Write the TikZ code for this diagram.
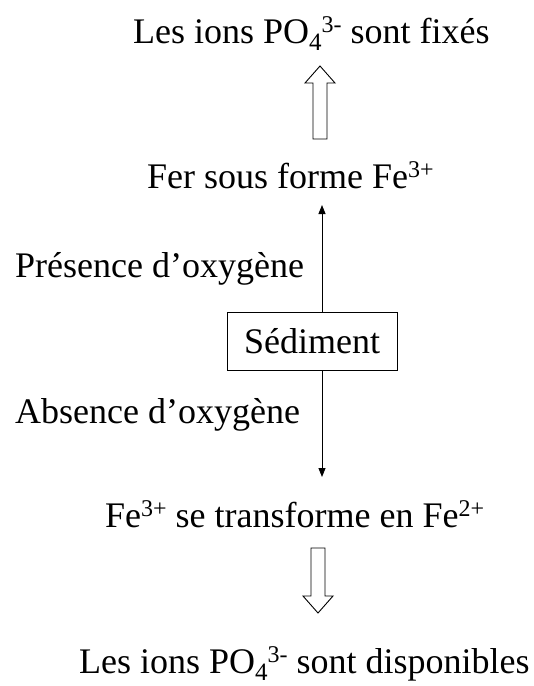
\documentclass[tikz,border=0pt]{standalone}
\usepackage{fontspec}
\setmainfont{Liberation Serif}
\usetikzlibrary{arrows.meta}
% smaller raised / lowered indices for ion charges
\newcommand\ionsup[1]{\raisebox{0.3em}{\fontsize{24}{24}\selectfont #1}}
\newcommand\ionsub[1]{\raisebox{-0.2em}{\fontsize{25}{25}\selectfont #1}}
\begin{document}
\begin{tikzpicture}[x=1pt,y=1pt,
  lbl/.style={anchor=base west,inner sep=0pt,font=\fontsize{36}{42}\selectfont},
  sedbox/.style={draw,line width=0.9pt,minimum width=170pt,minimum height=58pt,inner sep=0pt,font=\fontsize{36}{42}\selectfont},
  thin/.style={line width=0.9pt,-{Triangle[length=9pt,width=7pt]}},
  hollow/.style={draw,line width=0.9pt,fill=white,line join=miter}]
\useasboundingbox (0,0) rectangle (534,-686);

\node[lbl] (fixes) at (133,-43) {Les ions PO\ionsub{4}\ionsup{3-} sont fixés};
\node[lbl] (fer3) at (147,-188) {Fer sous forme Fe\ionsup{3+}};
\node[lbl] (pres) at (15,-277) {Présence d’oxygène};
\node[sedbox] (sed) at (312,-341) {Sédiment};
\node[lbl] (abs) at (15,-423) {Absence d’oxygène};
\node[lbl] (fe2) at (105,-527) {Fe\ionsup{3+} se transforme en Fe\ionsup{2+}};
\node[lbl] (dispo) at (79,-673) {Les ions PO\ionsub{4}\ionsup{3-} sont disponibles};

% thin arrows out of the sediment box
\coordinate (uptip) at (322,-205);
\coordinate (downtip) at (322,-477);
\draw[thin] (sed.north -| uptip) -- (uptip);
\draw[thin] (sed.south -| downtip) -- (downtip);

% hollow block arrow pointing up
\draw[hollow] (313,-139) -- (313,-83) -- (305,-83) -- (320,-66) -- (335,-83) -- (327,-83) -- (327,-139) -- cycle;
% hollow block arrow pointing down
\draw[hollow] (311,-548) -- (311,-596) -- (303,-596) -- (318,-613) -- (333,-596) -- (325,-596) -- (325,-548) -- cycle;
\end{tikzpicture}
\end{document}
